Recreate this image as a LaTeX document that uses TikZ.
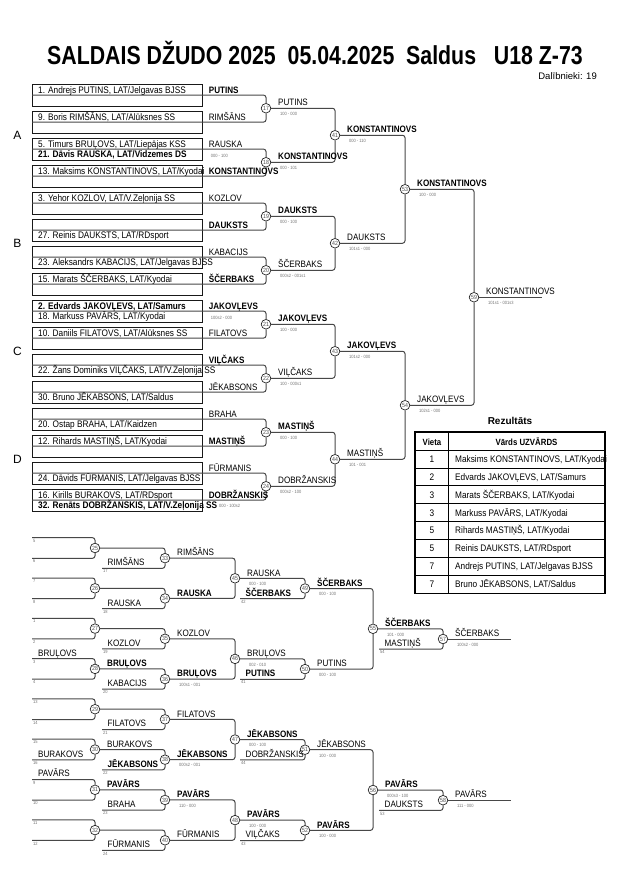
\documentclass[tikz,border=0pt]{standalone}
\usepackage{fontspec}
\setmainfont{Liberation Sans}
\newfontfamily\nar{Liberation Sans}[FakeStretch=0.87]
\newfontfamily\tit{Liberation Sans}[FakeStretch=0.82]
\usetikzlibrary{positioning}
\tikzset{>=latex}

\begin{document}
\begin{tikzpicture}[x=1pt, y=-1pt,
    entry/.style={draw=black!90, line width=0.7pt, minimum width=170pt, minimum height=21.5pt, inner sep=0pt, anchor=north west},
    fight/.style={circle, draw=black!85, fill=white, line width=0.7pt, inner sep=0pt, minimum size=9.6pt, text=black!70, font=\nar\fontsize{6}{6}\selectfont},
    bline/.style={draw=black!72, line width=1pt, rounded corners=2.5pt},
    who/.style={anchor=base west, inner sep=0pt, font=\nar\fontsize{9.5}{10}\selectfont},
    nm/.style={anchor=base west, inner sep=0pt, font=\nar\fontsize{9.3}{10}\selectfont},
    scr/.style={anchor=base west, inner sep=0pt, text=black!55, font=\nar\fontsize{4.6}{5}\selectfont},
    pool/.style={anchor=base, inner sep=0pt, font=\fontsize{12}{12}\selectfont},
    cell/.style={anchor=base west, inner sep=0pt, font=\nar\fontsize{9.5}{10}\selectfont}]
  \fill[white] (0,0) rectangle (630,891);
  \useasboundingbox (0,0) rectangle (630,891);

  % heading
  \node[anchor=base, inner sep=0pt, font=\tit\bfseries\fontsize{26}{28}\selectfont] (title) at (315,65) {SALDAIS DŽUDO 2025~~05.04.2025~~Saldus~~~U18 Z-73};
  \node[anchor=base east, inner sep=0pt, font=\fontsize{9.5}{10}\selectfont] (count) at (597,79) {Dalībnieki: 19};

  % main bracket
  \foreach \i in {0,...,15}
    \node[entry] (b\i) at (32,{84+27*\i}) {};
  \node[pool] (pA) at (17.5,139.5) {A};
  \node[pool] (pB) at (17.5,247.5) {B};
  \node[pool] (pC) at (17.5,355.5) {C};
  \node[pool] (pD) at (17.5,463.5) {D};

  \foreach \k in {0,...,7} {
    \pgfmathtruncatemacro\ma{17+\k}
    \node[fight] (m\ma) at (266,{108.25+54*\k}) {\ma};
  }
  \foreach \k in {0,...,3} {
    \pgfmathtruncatemacro\ma{41+\k}
    \node[fight] (m\ma) at (335,{135.25+108*\k}) {\ma};
  }
  \node[fight] (m53) at (405,189.25) {53};
  \node[fight] (m54) at (405,405.25) {54};
  \node[fight] (m59) at (474,297.25) {59};
  \coordinate (gold) at (542,297.25);

  \foreach \k in {0,...,7} {
    \pgfmathtruncatemacro\ma{17+\k}
    \pgfmathtruncatemacro\ia{2*\k}
    \pgfmathtruncatemacro\ib{2*\k+1}
    \draw[bline] (b\ia.west) -| (m\ma);
    \draw[bline] (b\ib.west) -| (m\ma);
  }
  \foreach \p/\q in {17/41,18/41,19/42,20/42,21/43,22/43,23/44,24/44,41/53,42/53,43/54,44/54,53/59,54/59}
    \draw[bline] (m\p) -| (m\q);
  \draw[bline] (m59) -- (gold);

  % entries
  \node[who] (e1) at ([shift={(6,-2.1)}]b0.west) {1. Andrejs PUTINS, LAT/Jelgavas BJSS};
  \node[who] (e9) at ([shift={(6,-2.1)}]b1.west) {9. Boris RIMŠĀNS, LAT/Alūksnes SS};
  \node[who] (e5) at ([shift={(6,-2.1)}]b2.west) {5. Timurs BRUĻOVS, LAT/Liepājas KSS};
  \node[who] (e21) at ([shift={(6,8.6)}]b2.west) {\bfseries 21. Dāvis RAUSKA, LAT/Vidzemes DS};
  \node[who] (e13) at ([shift={(6,-2.1)}]b3.west) {13. Maksims KONSTANTINOVS, LAT/Kyodai};
  \node[who] (e3) at ([shift={(6,-2.1)}]b4.west) {3. Yehor KOZLOV, LAT/V.Zeļonija SS};
  \node[who] (e27) at ([shift={(6,8.6)}]b5.west) {27. Reinis DAUKSTS, LAT/RDsport};
  \node[who] (e23) at ([shift={(6,8.6)}]b6.west) {23. Aleksandrs KABACIJS, LAT/Jelgavas BJSS};
  \node[who] (e15) at ([shift={(6,-2.1)}]b7.west) {15. Marats ŠČERBAKS, LAT/Kyodai};
  \node[who] (e2) at ([shift={(6,-2.1)}]b8.west) {\bfseries 2. Edvards JAKOVĻEVS, LAT/Samurs};
  \node[who] (e18) at ([shift={(6,8.6)}]b8.west) {18. Markuss PAVĀRS, LAT/Kyodai};
  \node[who] (e10) at ([shift={(6,-2.1)}]b9.west) {10. Daniils FILATOVS, LAT/Alūksnes SS};
  \node[who] (e22) at ([shift={(6,8.6)}]b10.west) {22. Žans Dominiks VIĻČAKS, LAT/V.Zeļonija SS};
  \node[who] (e30) at ([shift={(6,8.6)}]b11.west) {30. Bruno JĒKABSONS, LAT/Saldus};
  \node[who] (e20) at ([shift={(6,8.6)}]b12.west) {20. Ostap BRAHA, LAT/Kaidzen};
  \node[who] (e12) at ([shift={(6,-2.1)}]b13.west) {12. Rihards MASTIŅŠ, LAT/Kyodai};
  \node[who] (e24) at ([shift={(6,8.6)}]b14.west) {24. Dāvids FŪRMANIS, LAT/Jelgavas BJSS};
  \node[who] (e16) at ([shift={(6,-2.1)}]b15.west) {16. Kirills BURAKOVS, LAT/RDsport};
  \node[who] (e32) at ([shift={(6,8.6)}]b15.west) {\bfseries 32. Renāts DOBRŽANSKIS, LAT/V.Zeļonija SS};

  \foreach \i/\f/\w in {0/\bfseries/PUTINS, 1/\mdseries/RIMŠĀNS, 2/\mdseries/RAUSKA, 3/\bfseries/KONSTANTINOVS,
      4/\mdseries/KOZLOV, 5/\bfseries/DAUKSTS, 6/\mdseries/KABACIJS, 7/\bfseries/ŠČERBAKS,
      8/\bfseries/JAKOVĻEVS, 9/\mdseries/FILATOVS, 10/\bfseries/VIĻČAKS, 11/\mdseries/JĒKABSONS,
      12/\mdseries/BRAHA, 13/\bfseries/MASTIŅŠ, 14/\mdseries/FŪRMANIS, 15/\bfseries/DOBRŽANSKIS}
    \node[nm] (bw\i) at ([shift={(6,-2.1)}]b\i.east) {\f\w};
  \node[scr] (bs2) at ([shift={(8,8)}]b2.east) {000 - 100};
  \node[scr] (bs8) at ([shift={(8,8)}]b8.east) {100s2 - 000};
  \node[scr] (bs15) at ([shift={(1.5,-1.5)}]e32.base east) {000 - 100s2};

  % repechage
  \foreach \k in {0,...,7} {
    \pgfmathtruncatemacro\ma{25+\k}
    \pgfmathtruncatemacro\mb{33+\k}
    \node[fight] (m\ma) at (95,{548+40.3*\k}) {\ma};
    \node[fight] (m\mb) at (165,{558.15+40.3*\k}) {\mb};
    \coordinate (top\ma) at (32,{537.7+40.3*\k});
    \coordinate (bot\ma) at (32,{558.3+40.3*\k});
    \coordinate (low\mb) at (102,{568.3+40.3*\k});
  }
  \foreach \k in {0,...,3} {
    \pgfmathtruncatemacro\ma{45+\k}
    \pgfmathtruncatemacro\mb{49+\k}
    \node[fight] (m\ma) at (235,{578.3+80.6*\k}) {\ma};
    \node[fight] (m\mb) at (305,{588.5+80.6*\k}) {\mb};
    \coordinate (low\mb) at (240,{598.7+80.6*\k});
  }
  \node[fight] (m55) at (373,628.8) {55};
  \node[fight] (m56) at (373,790) {56};
  \node[fight] (m57) at (443,639) {57};
  \node[fight] (m58) at (443,800.2) {58};
  \coordinate (low57) at (379,649.2);
  \coordinate (low58) at (379,810.4);
  \coordinate (bronze57) at (511,639);
  \coordinate (bronze58) at (511,800.2);

  \foreach \n in {25,...,32} {
    \draw[bline] (top\n) -| (m\n);
    \draw[bline] (bot\n) -| (m\n);
  }
  \foreach \p/\q in {25/33,26/34,27/35,28/36,29/37,30/38,31/39,32/40,
      33/45,34/45,35/46,36/46,37/47,38/47,39/48,40/48,
      45/49,46/50,47/51,48/52,49/55,50/55,51/56,52/56,55/57,56/58}
    \draw[bline] (m\p) -| (m\q);
  \foreach \q in {33,...,40,49,50,51,52,57,58}
    \draw[bline] (low\q) -| (m\q);
  \draw[bline] (m57) -- (bronze57);
  \draw[bline] (m58) -- (bronze58);

  \foreach \n/\slA/\slB in {25/5/6, 26/7/8, 27/1/2, 28/3/4, 29/13/14, 30/15/16, 31/9/10, 32/11/12} {
    \node[scr] (st\n) at ([shift={(1,4.6)}]top\n) {\slA};
    \node[scr] (sb\n) at ([shift={(1,4.6)}]bot\n) {\slB};
  }
  \foreach \q/\slA in {33/17, 34/18, 35/19, 36/20, 37/21, 38/22, 39/23, 40/24, 49/42, 50/41, 51/44, 52/43, 57/54, 58/53}
    \node[scr] (sl\q) at ([shift={(1,4.6)}]low\q) {\slA};

  \node[nm] (iw28) at ([shift={(6,-2.6)}]top28) {BRUĻOVS};
  \node[nm] (iw30) at ([shift={(6,-2.6)}]bot30) {BURAKOVS};
  \node[nm] (iw31) at ([shift={(6,-2.6)}]top31) {PAVĀRS};
  \foreach \q/\f/\w in {33/\mdseries/RIMŠĀNS, 34/\mdseries/RAUSKA, 35/\mdseries/KOZLOV, 36/\mdseries/KABACIJS,
      37/\mdseries/FILATOVS, 38/\bfseries/JĒKABSONS, 39/\mdseries/BRAHA, 40/\mdseries/FŪRMANIS,
      49/\bfseries/ŠČERBAKS, 50/\bfseries/PUTINS, 51/\mdseries/DOBRŽANSKIS, 52/\mdseries/VIĻČAKS,
      57/\mdseries/MASTIŅŠ, 58/\mdseries/DAUKSTS}
    \node[nm] (lw\q) at ([shift={(5.5,-2.6)}]low\q) {\f\w};

  % winners and scores
  \foreach \n/\f/\w in {17/\mdseries/PUTINS, 18/\bfseries/KONSTANTINOVS, 19/\bfseries/DAUKSTS, 20/\mdseries/ŠČERBAKS,
      21/\bfseries/JAKOVĻEVS, 22/\mdseries/VIĻČAKS, 23/\bfseries/MASTIŅŠ, 24/\mdseries/DOBRŽANSKIS,
      41/\bfseries/KONSTANTINOVS, 42/\mdseries/DAUKSTS, 43/\bfseries/JAKOVĻEVS, 44/\mdseries/MASTIŅŠ,
      53/\bfseries/KONSTANTINOVS, 54/\mdseries/JAKOVĻEVS, 59/\mdseries/KONSTANTINOVS,
      28/\bfseries/BRUĻOVS, 30/\mdseries/BURAKOVS, 31/\bfseries/PAVĀRS,
      33/\mdseries/RIMŠĀNS, 34/\bfseries/RAUSKA, 35/\mdseries/KOZLOV, 36/\bfseries/BRUĻOVS,
      37/\mdseries/FILATOVS, 38/\bfseries/JĒKABSONS, 39/\bfseries/PAVĀRS, 40/\mdseries/FŪRMANIS,
      45/\mdseries/RAUSKA, 46/\mdseries/BRUĻOVS, 47/\bfseries/JĒKABSONS, 48/\bfseries/PAVĀRS,
      49/\bfseries/ŠČERBAKS, 50/\mdseries/PUTINS, 51/\mdseries/JĒKABSONS, 52/\bfseries/PAVĀRS,
      55/\bfseries/ŠČERBAKS, 56/\bfseries/PAVĀRS, 57/\mdseries/ŠČERBAKS, 58/\mdseries/PAVĀRS}
    \node[nm] (w\n) at ([shift={(12,-2.3)}]m\n.center) {\f\w};
  \foreach \n/\r in {17/100 - 000, 18/000 - 101, 19/000 - 100, 20/000s2 - 001s1,
      21/100 - 000, 22/100 - 000s1, 23/000 - 100, 24/000s2 - 100,
      41/000 - 110, 42/101s1 - 000, 43/101s2 - 000, 44/101 - 001,
      53/100 - 000, 54/102s1 - 000, 59/101s1 - 001s3,
      36/100s1 - 001, 38/000s2 - 001, 39/110 - 000,
      45/000 - 100, 46/002 - 010, 47/000 - 100, 48/100 - 000,
      49/000 - 100, 50/000 - 100, 51/100 - 000, 52/100 - 000,
      55/101 - 000, 56/000s3 - 100, 57/100s2 - 000, 58/111 - 000}
    \node[scr] (s\n) at ([shift={(14,7.3)}]m\n.center) {\r};

  % results
  \node[anchor=base, inner sep=0pt, font=\bfseries\fontsize{10}{10}\selectfont] (restitle) at (510,424) {Rezultāts};
  \draw[line width=0.7pt] (448,432) -- (448,593.3);
  \foreach \r in {1,...,7}
    \draw[line width=0.7pt] (415,{450+17.91*\r}) -- (605,{450+17.91*\r});
  \draw[line width=1pt] (415,450) -- (605,450);
  \draw[line width=1.3pt] (415,432) rectangle (605,593.3);
  \node[anchor=base, inner sep=0pt, font=\nar\bfseries\fontsize{9}{10}\selectfont] (hvieta) at (432,445.5) {Vieta};
  \node[anchor=base, inner sep=0pt, font=\nar\bfseries\fontsize{9}{10}\selectfont] (hname) at (526.5,445.5) {Vārds UZVĀRDS};
  \foreach \p [count=\r] in {1,2,3,3,5,5,7,7}
    \node[anchor=base, inner sep=0pt, font=\nar\fontsize{9.5}{10}\selectfont] (pl\r) at (432,{444.4+17.91*\r}) {\p};
  \node[cell] (rn1) at (455,462.3) {Maksims KONSTANTINOVS, LAT/Kyodai};
  \node[cell] (rn2) at (455,480.2) {Edvards JAKOVĻEVS, LAT/Samurs};
  \node[cell] (rn3) at (455,498.1) {Marats ŠČERBAKS, LAT/Kyodai};
  \node[cell] (rn4) at (455,516.0) {Markuss PAVĀRS, LAT/Kyodai};
  \node[cell] (rn5) at (455,533.9) {Rihards MASTIŅŠ, LAT/Kyodai};
  \node[cell] (rn6) at (455,551.8) {Reinis DAUKSTS, LAT/RDsport};
  \node[cell] (rn7) at (455,569.7) {Andrejs PUTINS, LAT/Jelgavas BJSS};
  \node[cell] (rn8) at (455,587.6) {Bruno JĒKABSONS, LAT/Saldus};
\end{tikzpicture}
\end{document}
